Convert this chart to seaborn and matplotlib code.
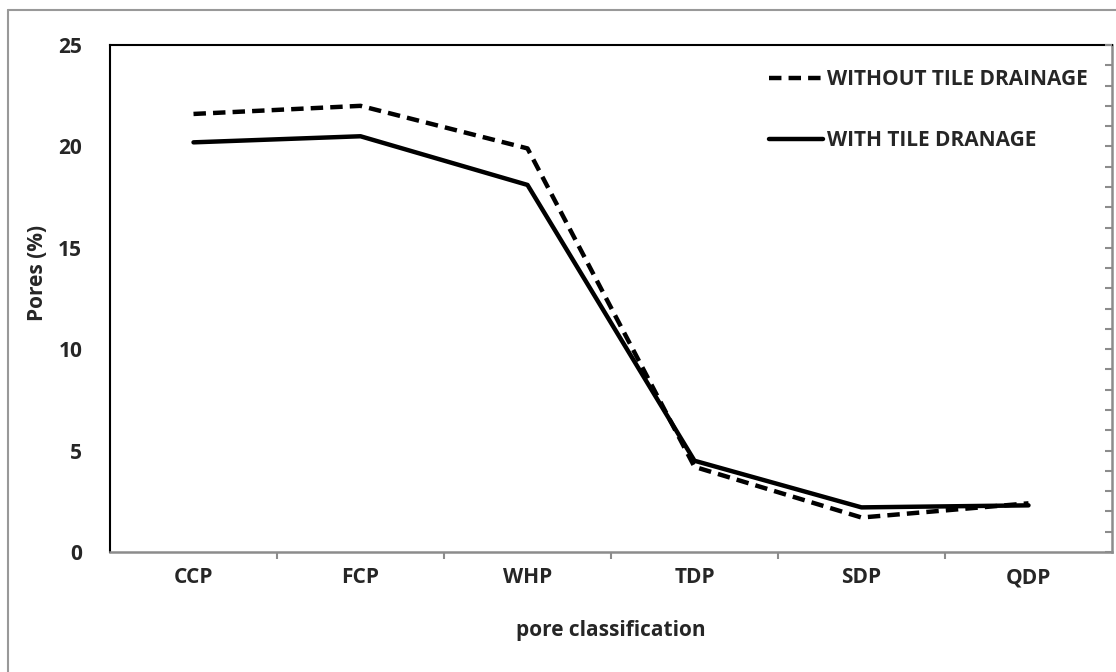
import numpy as np
import pandas as pd
import seaborn as sns
import matplotlib.pyplot as plt
from matplotlib.lines import Line2D
from matplotlib.ticker import MultipleLocator, FixedLocator

# data
categories = ["CCP", "FCP", "WHP", "TDP", "SDP", "QDP"]
without_drainage = [21.6, 22.0, 19.9, 4.2, 1.7, 2.4]
with_drainage = [20.2, 20.5, 18.1, 4.5, 2.2, 2.3]
labels = ["WITHOUT TILE DRAINAGE", "WITH TILE DRANAGE"]

df = pd.DataFrame({
    "pore": categories * 2,
    "value": without_drainage + with_drainage,
    "series": [labels[0]] * 6 + [labels[1]] * 6,
})

sns.set_style("white")
plt.rcParams["font.family"] = ["Open Sans", "DejaVu Sans"]
plt.rcParams["font.weight"] = "bold"
plt.rcParams["axes.labelweight"] = "bold"
FS = 15

fig = plt.figure(figsize=(11.16, 6.72), dpi=100)
ax = fig.add_axes([110 / 1116, 1 - 552 / 672, 1002 / 1116, 507 / 672])

sns.lineplot(data=df, x="pore", y="value", style="series", color="black",
             dashes={labels[0]: (2.8, 1.6), labels[1]: ""}, linewidth=3.2,
             sort=False, ax=ax, legend=False)

ax.set_xlim(-0.5, 5.5)
ax.set_ylim(0, 25)
ax.set_xticks(range(len(categories)))
ax.set_xticklabels(categories, fontweight="bold", fontsize=FS)
ax.set_yticks(range(0, 26, 5))
ax.set_yticklabels([str(v) for v in range(0, 26, 5)], fontweight="bold", fontsize=FS)
ax.xaxis.set_minor_locator(FixedLocator(np.arange(0.5, 5, 1)))

for s in ["left", "top"]:
    ax.spines[s].set_color("black")
    ax.spines[s].set_linewidth(1.5)
for s in ["bottom", "right"]:
    ax.spines[s].set_color("#8c8c8c")
    ax.spines[s].set_linewidth(1.8)

ax.tick_params(axis="y", which="major", length=0, pad=20)
ax.tick_params(axis="x", which="major", length=0, pad=11)
ax.tick_params(axis="x", which="minor", length=5, width=1.5, color="#8c8c8c",
               direction="out", bottom=True)

# minor ticks on the right spine, every 1 unit
ax2 = ax.twinx()
ax2.set_ylim(0, 25)
ax2.yaxis.set_major_locator(MultipleLocator(1))
ax2.tick_params(axis="y", length=5, width=1.5, color="#8c8c8c", direction="in",
                labelright=False)
for s in ax2.spines.values():
    s.set_visible(False)

ax.set_xlabel("pore classification", fontsize=FS, fontweight="bold")
ax.set_ylabel("Pores (%)", fontsize=FS, fontweight="bold")
ax.xaxis.set_label_coords(0.5, -0.135)
ax.yaxis.set_label_coords(-0.062, 0.55)

handles = [Line2D([], [], color="black", lw=3.2, dashes=(2.8, 1.6)),
           Line2D([], [], color="black", lw=3.2)]
leg = ax.legend(handles, labels, loc="upper right", bbox_to_anchor=(0.995, 0.99),
                frameon=False, handlelength=2.6, handletextpad=0.2,
                labelspacing=1.95, prop={"weight": "bold", "size": FS})

# outer chart border (left and top visible)
fig.add_artist(Line2D([8 / 1116, 8 / 1116], [0, 1 - 10 / 672], color="#999999", lw=1.5))
fig.add_artist(Line2D([8 / 1116, 1], [1 - 10 / 672, 1 - 10 / 672], color="#999999", lw=1.5))

fig.savefig("out.png", dpi=100)
